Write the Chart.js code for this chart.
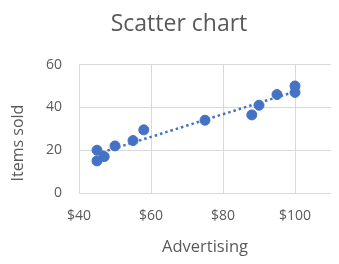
<!DOCTYPE html>
<html>
<head>
<meta charset="utf-8">
<script src="https://cdn.jsdelivr.net/npm/chart.js@4"></script>
<style>
  html, body { margin: 0; padding: 0; background: #fff; }
  #wrap { width: 339px; height: 264px; }
</style>
</head>
<body>
<div id="wrap"><canvas id="chart"></canvas></div>
<script>
// values
const advertising = [45, 45, 47, 50, 55, 58, 75, 88, 90, 95, 100, 100];
const itemsSold = [20, 15, 17, 22, 24.5, 29.5, 34, 36.5, 41, 46, 50, 47];
const trendX = [45, 100];
const trendY = [18.3, 47.4];
const xTicks = [40, 60, 80, 100];

const font = "'Open Sans', 'Noto Sans', sans-serif";
const gray = '#595959';
const blue = '#4472C4';

// y axis title sits a bit below the middle of the axis, as in the original
const yTitle = {
    id: 'yTitle',
    afterDraw(chart) {
        const ctx = chart.ctx;
        ctx.save();
        ctx.translate(18, 143);
        ctx.rotate(-Math.PI / 2);
        ctx.fillStyle = gray;
        ctx.font = '16px ' + font;
        ctx.textAlign = 'center';
        ctx.textBaseline = 'middle';
        ctx.fillText('Items sold', 0, 0);
        ctx.restore();
    }
};

const chartConfig = {
    type: 'scatter',
    data: {
        datasets: [{
            label: 'Trend',
            data: trendX.map((x, i) => ({x: x, y: trendY[i]})),
            showLine: true,
            borderColor: blue,
            borderWidth: 2.5,
            borderDash: [2.5, 3],
            pointRadius: 0,
            order: 0
        }, {
            label: 'Items sold',
            data: advertising.map((x, i) => ({x: x, y: itemsSold[i]})),
            backgroundColor: blue,
            borderColor: blue,
            pointRadius: 5,
            order: 1
        }]
    },
    options: {
        animation: false,
        responsive: true,
        maintainAspectRatio: false,
        layout: {padding: {left: 27, right: 8, top: 0, bottom: 0}},
        plugins: {
            legend: {display: false},
            tooltip: {enabled: false},
            title: {
                display: true,
                text: 'Scatter chart',
                color: gray,
                font: {family: font, size: 23, weight: 'normal'},
                padding: {top: 11, bottom: 26}
            }
        },
        scales: {
            x: {
                type: 'linear',
                min: 40,
                max: 110,
                afterBuildTicks: (axis) => {
                    axis.ticks = xTicks.map(v => ({value: v}));
                },
                afterFit: (axis) => { axis.height = 71; },
                ticks: {
                    color: gray,
                    font: {family: font, size: 14},
                    padding: 15,
                    callback: (v) => '$' + v
                },
                grid: {color: '#d9d9d9', lineWidth: 1, drawTicks: false},
                border: {display: false},
                title: {
                    display: true,
                    text: 'Advertising',
                    color: gray,
                    font: {family: font, size: 16.5},
                    padding: {top: 4, bottom: 7}
                }
            },
            y: {
                min: 0,
                max: 60,
                afterFit: (axis) => { axis.width = 52; },
                ticks: {
                    stepSize: 20,
                    color: gray,
                    font: {family: font, size: 14},
                    padding: 17
                },
                grid: {color: '#d9d9d9', lineWidth: 1, drawTicks: false},
                border: {display: false}
            }
        }
    },
    plugins: [yTitle]
};

new Chart(document.getElementById('chart'), chartConfig);
</script>
</body>
</html>
